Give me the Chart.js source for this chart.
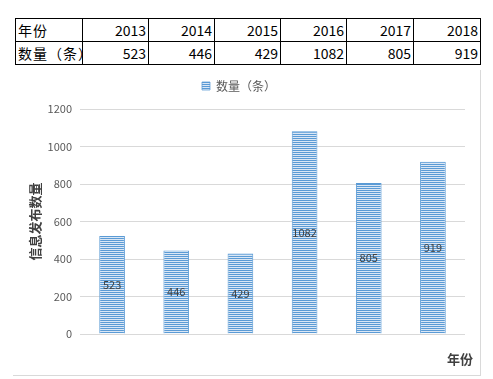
<!DOCTYPE html>
<html>
<head>
<meta charset="utf-8">
<script src="https://cdn.jsdelivr.net/npm/chart.js@4/dist/chart.umd.min.js"></script>
<style>
    body { margin: 0; background: #fff; font-family: "Noto Sans CJK SC", sans-serif; }
    #data-table {
        position: absolute; left: 15px; top: 18px; width: 465px;
        border-collapse: collapse; table-layout: fixed;
        font-size: 14px; color: #000;
    }
    #data-table td {
        border: 1px solid #000; height: 22px; padding: 0 2px;
        text-align: right; white-space: nowrap; overflow: hidden; line-height: 22px;
    }
    #data-table td:first-child { text-align: left; letter-spacing: 1px; }
    #chart-box {
        position: absolute; left: 13px; top: 70px; width: 467px; height: 305px;
        border-right: 1px solid #d9d9d9; border-bottom: 1px solid #d9d9d9;
    }
</style>
</head>
<body>
<table id="data-table">
    <colgroup>
        <col style="width:67px"><col style="width:66px"><col style="width:66px"><col style="width:66px">
        <col style="width:66px"><col style="width:67px"><col style="width:67px">
    </colgroup>
    <tr id="row-years"></tr>
    <tr id="row-counts"></tr>
</table>
<div id="chart-box"><canvas id="info-chart"></canvas></div>
<script>
// Data
const years = ["2013", "2014", "2015", "2016", "2017", "2018"];
const counts = [523, 446, 429, 1082, 805, 919];
const seriesName = "数量（条）";
const yTicks = [0, 200, 400, 600, 800, 1000, 1200];
const xTitle = "年份";

// Fill the table above the chart
document.getElementById("row-years").innerHTML =
    `<td>${xTitle}</td>` + years.map(y => `<td>${y}</td>`).join("");
document.getElementById("row-counts").innerHTML =
    `<td>${seriesName}</td>` + counts.map(c => `<td>${c}</td>`).join("");

// Horizontal stripe fill like the Excel pattern
function stripePattern(ctx) {
    const c = document.createElement("canvas");
    c.width = 4; c.height = 2;
    const p = c.getContext("2d");
    p.fillStyle = "#dbe7f5";
    p.fillRect(0, 0, 4, 2);
    p.fillStyle = "#5b9bd5";
    p.fillRect(0, 0, 4, 1);
    return ctx.createPattern(c, "repeat");
}

// Value labels in the middle of each bar
const barLabels = {
    id: "barLabels",
    afterDatasetsDraw(chart) {
        const ctx = chart.ctx;
        const meta = chart.getDatasetMeta(0);
        ctx.save();
        ctx.font = '11px "Noto Sans CJK SC"';
        ctx.fillStyle = "#404040";
        ctx.textAlign = "center";
        ctx.textBaseline = "middle";
        meta.data.forEach((bar, i) => {
            ctx.fillText(String(counts[i]), bar.x, (bar.y + bar.base) / 2);
        });
        ctx.restore();
    }
};

// x axis title sits a bit past the right end of the plot, like Excel
const xAxisTitle = {
    id: "xAxisTitle",
    afterDraw(chart) {
        const ctx = chart.ctx;
        const x = chart.scales.x;
        ctx.save();
        ctx.font = 'bold 13px "Noto Sans CJK SC"';
        ctx.fillStyle = "#404040";
        ctx.textAlign = "right";
        ctx.textBaseline = "middle";
        ctx.fillText(xTitle, x.right + 8, x.bottom - 16);
        ctx.restore();
    }
};

// Extra space under the legend
const legendGap = {
    id: "legendGap",
    beforeInit(chart) {
        const fit = chart.legend.fit;
        chart.legend.fit = function () {
            fit.bind(chart.legend)();
            this.height += 7;
        };
    }
};

const ctx = document.getElementById("info-chart").getContext("2d");
const pattern = stripePattern(ctx);

new Chart(ctx, {
    type: "bar",
    data: {
        labels: years,
        datasets: [{
            label: seriesName,
            data: counts,
            backgroundColor: pattern,
            borderColor: "#5b9bd5",
            borderWidth: { left: 1, right: 1, top: 1, bottom: 0 },
            borderSkipped: false,
            categoryPercentage: 1,
            barPercentage: 0.4
        }]
    },
    options: {
        responsive: true,
        maintainAspectRatio: false,
        animation: false,
        layout: { padding: { left: 0, right: 15, top: 0, bottom: 0 } },
        scales: {
            x: {
                grid: { display: false },
                border: { display: false },
                ticks: { display: false },
                afterFit(scale) { scale.height = 41; }
            },
            y: {
                min: 0, max: 1200,
                afterBuildTicks(scale) { scale.ticks = yTicks.map(v => ({ value: v })); },
                grid: { color: "#d9d9d9", drawTicks: false },
                border: { display: false },
                ticks: {
                    color: "#595959", padding: 8,
                    font: { family: "Noto Sans CJK SC", size: 11 },
                    callback: v => String(v)
                },
                title: {
                    display: true, text: "信息发布数量",
                    color: "#404040",
                    font: { family: "Noto Sans CJK SC", size: 13, weight: "bold" },
                    padding: { top: 14, bottom: 0 }
                },
                afterFit(scale) { scale.width = 67; }
            }
        },
        plugins: {
            legend: {
                display: true,
                position: "top",
                labels: {
                    boxWidth: 8, boxHeight: 8,
                    color: "#595959",
                    font: { family: "Noto Sans CJK SC", size: 12 }
                }
            },
            tooltip: { enabled: false }
        }
    },
    plugins: [barLabels, xAxisTitle, legendGap]
});
</script>
</body>
</html>
